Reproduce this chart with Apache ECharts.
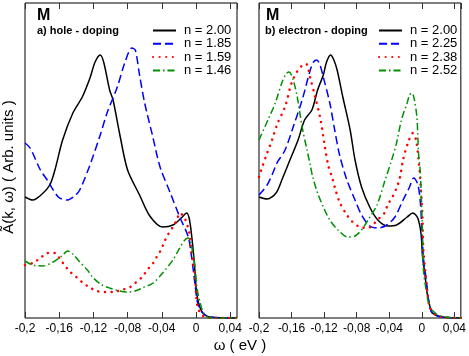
<!DOCTYPE html>
<html>
<head>
<meta charset="utf-8">
<script src="https://cdn.jsdelivr.net/npm/echarts@6/dist/echarts.min.js"></script>
<style>
  html, body { margin: 0; padding: 0; background: #fff; }
  #chart { width: 469px; height: 356px; }
</style>
</head>
<body>
<div id="chart"></div>
<script>
// omega (eV), A(k,w) (arb. units)
// a) hole doping
var holeN200 = [[-0.200,121],[-0.191,118],[-0.180,124],[-0.171,133],[-0.165,148],[-0.156,178],[-0.144,205],[-0.133,221],[-0.124,240],[-0.118,256],[-0.112,263],[-0.108,256],[-0.101,228],[-0.097,218],[-0.089,183],[-0.080,148],[-0.066,123],[-0.054,102],[-0.039,91],[-0.027,93],[-0.016,101],[-0.011,105],[-0.008,100],[-0.005,82],[-0.002,56],[0.001,24],[0.007,6],[0.016,1],[0.048,0]];
var holeN185 = [[-0.200,175],[-0.194,170],[-0.182,148],[-0.174,138],[-0.161,121],[-0.151,118],[-0.142,122],[-0.136,128],[-0.124,153],[-0.112,183],[-0.104,205],[-0.092,231],[-0.083,256],[-0.075,270],[-0.071,268],[-0.066,243],[-0.060,215],[-0.051,183],[-0.042,151],[-0.030,125],[-0.019,101],[-0.009,81],[-0.005,60],[-0.001,33],[0.002,15],[0.008,5],[0.016,1],[0.048,0]];
var holeN159 = [[-0.200,53],[-0.191,55],[-0.182,60],[-0.174,65],[-0.165,65],[-0.159,59],[-0.153,52],[-0.147,46],[-0.140,41],[-0.132,35],[-0.125,31],[-0.116,27],[-0.106,26],[-0.097,26],[-0.087,28],[-0.077,31],[-0.071,35],[-0.063,41],[-0.057,48],[-0.050,55],[-0.046,61],[-0.041,68],[-0.037,76],[-0.033,83],[-0.027,91],[-0.022,99],[-0.019,105],[-0.014,101],[-0.011,95],[-0.008,86],[-0.006,71],[-0.004,58],[-0.001,41],[0.000,25],[0.002,11],[0.007,3],[0.016,0],[0.048,0]];
var holeN146 = [[-0.200,57],[-0.191,53],[-0.179,52],[-0.167,56],[-0.157,62],[-0.150,67],[-0.144,64],[-0.136,56],[-0.127,48],[-0.120,40],[-0.110,33],[-0.101,30],[-0.089,27],[-0.080,26],[-0.071,27],[-0.063,30],[-0.050,35],[-0.039,45],[-0.027,58],[-0.019,70],[-0.013,78],[-0.009,80],[-0.005,71],[-0.001,51],[0.001,31],[0.005,15],[0.009,5],[0.016,0],[0.048,0]];
// b) electron doping
var elecN200 = [[-0.200,121],[-0.190,119],[-0.179,125],[-0.171,140],[-0.162,158],[-0.152,178],[-0.144,198],[-0.135,208],[-0.128,228],[-0.121,243],[-0.117,256],[-0.112,263],[-0.108,258],[-0.104,248],[-0.097,221],[-0.088,188],[-0.082,158],[-0.074,131],[-0.064,111],[-0.054,98],[-0.042,92],[-0.031,93],[-0.018,101],[-0.011,105],[-0.005,100],[-0.001,85],[0.001,61],[0.004,43],[0.006,28],[0.009,15],[0.013,5],[0.025,1],[0.049,0]];
var elecN225 = [[-0.200,123],[-0.190,133],[-0.183,145],[-0.178,155],[-0.168,168],[-0.158,191],[-0.147,218],[-0.137,248],[-0.133,256],[-0.129,258],[-0.125,253],[-0.121,241],[-0.113,215],[-0.107,188],[-0.101,163],[-0.092,138],[-0.082,118],[-0.074,103],[-0.064,92],[-0.054,90],[-0.043,93],[-0.033,101],[-0.023,118],[-0.015,131],[-0.010,140],[-0.005,134],[-0.002,118],[0.000,91],[0.002,61],[0.006,35],[0.009,15],[0.013,5],[0.025,1],[0.049,0]];
var elecN238 = [[-0.200,141],[-0.196,151],[-0.190,165],[-0.184,178],[-0.177,195],[-0.168,211],[-0.160,235],[-0.152,248],[-0.146,253],[-0.142,254],[-0.137,240],[-0.131,221],[-0.125,201],[-0.119,171],[-0.115,153],[-0.110,140],[-0.107,131],[-0.101,116],[-0.092,103],[-0.085,96],[-0.076,91],[-0.066,90],[-0.058,95],[-0.052,100],[-0.045,106],[-0.042,113],[-0.036,121],[-0.031,130],[-0.027,140],[-0.023,158],[-0.017,175],[-0.011,185],[-0.007,178],[-0.004,158],[-0.001,128],[0.001,98],[0.002,68],[0.005,41],[0.007,25],[0.010,11],[0.016,4],[0.025,1],[0.049,0]];
var elecN252 = [[-0.200,178],[-0.189,198],[-0.180,215],[-0.172,235],[-0.167,244],[-0.163,246],[-0.158,238],[-0.153,221],[-0.147,191],[-0.141,168],[-0.137,153],[-0.134,141],[-0.128,125],[-0.121,111],[-0.113,98],[-0.103,88],[-0.091,81],[-0.082,82],[-0.074,88],[-0.066,98],[-0.055,113],[-0.045,138],[-0.037,158],[-0.031,175],[-0.025,198],[-0.018,215],[-0.015,223],[-0.012,225],[-0.009,218],[-0.006,201],[-0.005,185],[-0.004,165],[-0.002,148],[0.000,108],[0.001,75],[0.002,48],[0.006,25],[0.010,11],[0.018,4],[0.028,1],[0.049,0]];

var holeNames = ['n = 2.00', 'n = 1.85', 'n = 1.59', 'n = 1.46'];
var elecNames = ['n = 2.00', 'n = 2.25', 'n = 2.38', 'n = 2.52'];
var xTicks = { min: -0.2, max: 0.048, interval: 0.04 };

var FONT = 'Liberation Sans, Arial, Helvetica, sans-serif';
var colors = ['#000000', '#0000ff', '#ff0000', '#009000'];
var styles = [
    { width: 1.5, type: 'solid' },
    { width: 1.5, type: [8, 4] },
    { width: 2.5, type: [0.1, 6.5], cap: 'round' },
    { width: 1.5, type: [7, 3, 1.5, 3] }
];

function fmt(v) {
    return parseFloat(v.toFixed(2)).toString().replace('.', ',');
}

function mkSeries(name, data, k, gi) {
    return {
        name: name,
        type: 'line',
        xAxisIndex: gi * 2,
        yAxisIndex: gi,
        data: data,
        smooth: 0.3,
        symbol: 'none',
        animation: false,
        lineStyle: { color: colors[k], width: styles[k].width, type: styles[k].type, cap: styles[k].cap || 'butt' },
        itemStyle: { color: colors[k] }
    };
}

function mkX(gi, top) {
    return {
        type: 'value', gridIndex: gi, position: top ? 'top' : 'bottom',
        min: xTicks.min, max: xTicks.max, interval: xTicks.interval,
        axisLine: { show: false },
        axisTick: { show: true, inside: true, length: 6, lineStyle: { color: '#333' } },
        splitLine: { show: false },
        axisLabel: top ? { show: false } : {
            show: true, margin: 5, fontSize: 12, color: '#000', fontFamily: FONT,
            showMaxLabel: false, formatter: fmt
        }
    };
}

function mkY(gi) {
    return {
        type: 'value', gridIndex: gi, min: 0, max: 315,
        axisLine: { show: false }, axisTick: { show: false },
        axisLabel: { show: false }, splitLine: { show: false }
    };
}

var series = [];
[holeN200, holeN185, holeN159, holeN146].forEach(function (d, k) { series.push(mkSeries(holeNames[k], d, k, 0)); });
[elecN200, elecN225, elecN238, elecN252].forEach(function (d, k) { series.push(mkSeries(elecNames[k], d, k, 1)); });

function mkLegend(left, names) {
    return {
        left: left, top: 24, orient: 'vertical', padding: 0,
        itemWidth: 23, itemHeight: 10, itemGap: 0.3,
        selectedMode: false, data: names,
        itemStyle: { opacity: 0 },
        textStyle: { fontSize: 13, color: '#000', fontFamily: FONT, lineHeight: 13, padding: [0, 0, 0, 3] }
    };
}

var chart = echarts.init(document.getElementById('chart'));
var option = {
    backgroundColor: '#fff',
    animation: false,
    grid: [
        { left: 25, top: 3, width: 212, height: 315, show: true, borderColor: '#000', borderWidth: 1 },
        { left: 259, top: 3, width: 203, height: 315, show: true, borderColor: '#000', borderWidth: 1 }
    ],
    xAxis: [mkX(0, false), mkX(0, true), mkX(1, false), mkX(1, true)],
    yAxis: [mkY(0), mkY(1)],
    legend: [mkLegend(152, holeNames), mkLegend(378, elecNames)],
    series: series,
    graphic: [
        { type: 'text', left: 37, top: 8, style: { text: 'M', font: 'bold 16px ' + FONT, fill: '#000' } },
        { type: 'text', left: 37, top: 25, style: { text: 'a) hole - doping', font: 'bold 11px ' + FONT, fill: '#000' } },
        { type: 'text', left: 266, top: 8, style: { text: 'M', font: 'bold 16px ' + FONT, fill: '#000' } },
        { type: 'text', left: 265, top: 25, style: { text: 'b) electron - doping', font: 'bold 11px ' + FONT, fill: '#000' } },
        { type: 'text', x: 240, y: 346, style: { text: 'ω ( eV )', font: '15px ' + FONT, fill: '#000', align: 'center', verticalAlign: 'middle' } },
        { type: 'text', x: 9, y: 167, rotation: Math.PI / 2, style: { text: 'Ã(k, ω) ( Arb. units )', font: '15px ' + FONT, fill: '#000', align: 'center', verticalAlign: 'middle' } }
    ]
};
chart.setOption(option);
</script>
</body>
</html>
